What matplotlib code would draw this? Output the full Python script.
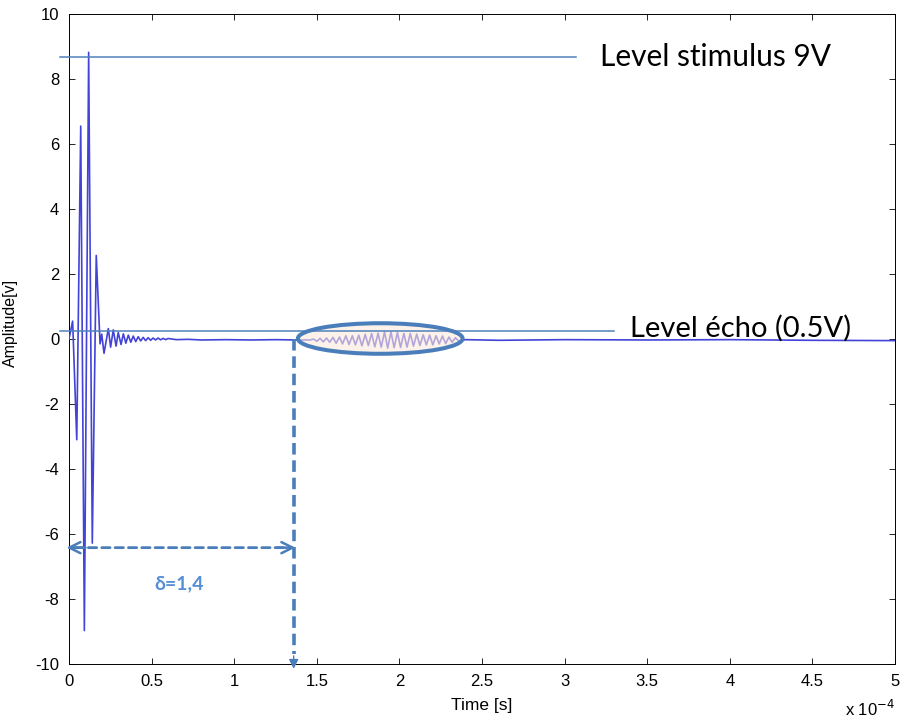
import matplotlib
matplotlib.use("Agg")
import matplotlib.pyplot as plt
from matplotlib.patches import Ellipse
from matplotlib.ticker import FuncFormatter

# signal: extrema of the waveform, time in microseconds
pulse_t = [0.0, 2.2, 4.7, 7.1, 9.3, 11.9, 14.1, 16.5, 18.8, 19.8, 21.2, 23.8, 25.2,
           26.8, 28.5, 29.8, 31.5, 32.9, 34.4, 35.9, 37.4, 38.9, 40.4, 41.9, 43.4,
           44.9, 46.4, 47.9, 49.4, 50.9, 52.4, 53.9, 55.4, 57.0, 58.5, 60.0, 65.0,
           72.0, 80.0, 95.0, 110.0, 125.0, 138.0, 146.0]
pulse_amp = [0.0, 0.55, -3.1, 6.55, -8.97, 8.82, -6.28, 2.57, -0.15, 0.15, -0.44, 0.32, -0.25,
             0.28, -0.22, 0.2, -0.17, 0.16, -0.13, 0.12, -0.1, 0.09, -0.08, 0.07, -0.06,
             0.05, -0.05, 0.04, -0.04, 0.03, -0.03, 0.03, -0.025, 0.02, -0.02, 0.015, -0.02,
             -0.01, -0.03, -0.02, -0.03, -0.02, -0.03, -0.03]

echo_t = [148.0, 150.0, 152.0, 153.9, 155.9, 157.8, 159.8, 161.7, 163.7, 165.6, 167.6, 169.5,
          171.5, 173.4, 175.4, 177.3, 179.3, 181.2, 183.2, 185.1, 187.1, 189.0, 191.0, 192.9,
          194.9, 196.8, 198.8, 200.7, 202.7, 204.6, 206.6, 208.5, 210.5, 212.4, 214.4, 216.3,
          218.3, 220.2, 222.2, 224.1, 226.1, 228.0, 230.0, 231.9, 233.9, 235.8]
echo_amp = [0.0, -0.07, 0.02, -0.09, 0.03, -0.1, 0.05, -0.13, 0.06, -0.15, 0.1, -0.17,
            0.1, -0.18, 0.12, -0.21, 0.14, -0.2, 0.17, -0.24, 0.18, -0.25, 0.22, -0.28,
            0.22, -0.27, 0.2, -0.26, 0.17, -0.25, 0.17, -0.22, 0.15, -0.2, 0.13, -0.18,
            0.12, -0.18, 0.1, -0.15, 0.09, -0.14, 0.06, -0.1, 0.04, -0.06]

after_t = [240.0, 260.0, 300.0, 350.0, 400.0, 450.0, 500.0]
after_amp = [-0.02, -0.04, -0.02, -0.03, -0.02, -0.04, -0.05]

stim_level = 8.68
echo_level = 0.25
delta_t = 1.36   # x 1e-4 s
delta_label = "δ=1,4"

x_ticks = [0, 0.5, 1, 1.5, 2, 2.5, 3, 3.5, 4, 4.5, 5]
y_ticks = [-10, -8, -6, -4, -2, 0, 2, 4, 6, 8, 10]

SIG = "#4343d8"
LVL = "#4f81bd"
ANN = "#4a7ebb"

plt.rcParams["axes.unicode_minus"] = False
plt.rcParams["font.family"] = ["Liberation Sans", "DejaVu Sans"]

t_all = [v / 100 for v in pulse_t + echo_t + after_t]   # -> units of 1e-4 s
amp_all = pulse_amp + echo_amp + after_amp

fig = plt.figure(figsize=(9.01, 7.22), dpi=100)
ax = fig.add_axes([69 / 901, 58 / 722, 826 / 901, 650 / 722])

ax.plot(t_all, amp_all, color=SIG, lw=1.2, zorder=3)

# level lines (they stick out a bit left of the axis in the original)
ax.plot([-0.055, 3.07], [stim_level, stim_level], color=LVL, lw=1.1, clip_on=False, zorder=5)
ax.plot([-0.055, 3.30], [echo_level, echo_level], color=LVL, lw=1.1, clip_on=False, zorder=5)
text_font = ["Lato", "DejaVu Sans"]
ax.text(3.215, stim_level, "Level stimulus 9V", fontsize=21.5, family=text_font,
        va="center", ha="left", color="black")
ax.text(3.395, 0.33, "Level écho (0.5V)", fontsize=21, family=text_font,
        va="center", ha="left", color="black")

# ellipse around the echo
ax.add_patch(Ellipse((1.884, 0.015), 0.997, 0.94, facecolor="#fbeadc", alpha=0.6,
                     edgecolor="none", zorder=4))
ax.add_patch(Ellipse((1.884, 0.015), 0.997, 0.94, facecolor="none",
                     edgecolor=ANN, lw=2.9, zorder=6))

# delta arrows
ax.annotate("", xy=(delta_t - 0.02, -6.42), xytext=(0.02, -6.42),
            arrowprops=dict(arrowstyle="-", color=ANN, lw=2.0, linestyle=(0, (3, 1.8))),
            annotation_clip=False)
for x0, x1 in [(0.1, -0.015), (delta_t - 0.1, delta_t + 0.01)]:
    ax.annotate("", xy=(x1, -6.42), xytext=(x0, -6.42),
                arrowprops=dict(arrowstyle="->", color=ANN, lw=1.8, mutation_scale=20,
                                shrinkA=0, shrinkB=0),
                annotation_clip=False)
ax.plot([delta_t, delta_t], [0.0, -9.7], color=ANN, lw=2.6, dashes=(3.2, 1.6),
        clip_on=False, zorder=6)
ax.annotate("", xy=(delta_t, -10.15), xytext=(delta_t, -9.75),
            arrowprops=dict(arrowstyle="-|>", color=ANN, lw=1.0, mutation_scale=14,
                            shrinkA=0, shrinkB=0),
            annotation_clip=False)
ax.text(0.666, -7.53, delta_label, fontsize=14, fontweight="bold", family=text_font,
        color="#558ed5", ha="center", va="center")

ax.set_xlim(0, 5)
ax.set_ylim(-10, 10)
ax.set_xticks(x_ticks)
ax.set_yticks(y_ticks)
ax.xaxis.set_major_formatter(FuncFormatter(lambda v, p: f"{v:g}"))
ax.tick_params(direction="in", top=True, right=True, length=4, width=0.6,
               labelsize=12, pad=7)
for sp in ax.spines.values():
    sp.set_linewidth(0.7)

ax.set_xlabel("Time [s]", fontsize=12.5)
ax.xaxis.set_label_coords(0.5, -0.053)
ax.set_ylabel("Amplitude[v]", fontsize=11.5)
ax.yaxis.set_label_coords(-0.062, 0.525)
ax.text(1.0, -0.08, r"x 10$^{-4}$", transform=ax.transAxes, ha="right", va="baseline",
        fontsize=12)

fig.savefig("out.png", dpi=100)
